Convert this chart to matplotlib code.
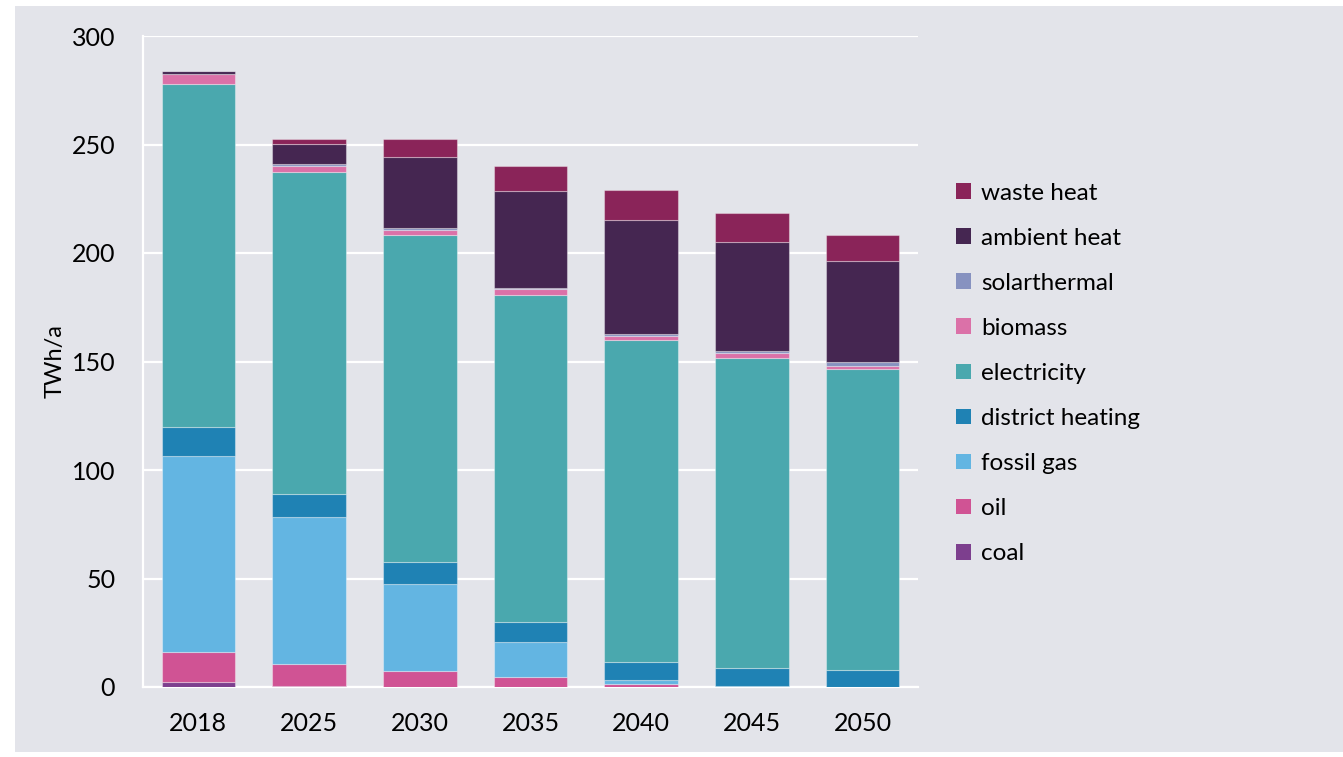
import matplotlib
matplotlib.use("Agg")
import matplotlib.pyplot as plt
from matplotlib.patches import Patch, Rectangle
import numpy as np

years = ["2018", "2025", "2030", "2035", "2040", "2045", "2050"]
series_names = ["coal", "oil", "fossil gas", "district heating", "electricity",
                "biomass", "solarthermal", "ambient heat", "waste heat"]
coal = [2.3, 0.6, 0.0, 0.0, 0.1, 0.0, 0.0]
oil = [13.7, 10.0, 7.4, 4.5, 1.3, 0.0, 0.0]
fossil_gas = [90.5, 67.6, 40.2, 16.1, 1.7, 0.4, 0.0]
district_heating = [13.3, 10.7, 10.0, 9.4, 8.4, 8.3, 8.0]
electricity = [158.3, 148.4, 150.8, 150.8, 148.4, 143.1, 138.5]
biomass = [4.3, 2.9, 2.3, 2.5, 1.9, 1.9, 1.6]
solarthermal = [0.3, 0.6, 0.7, 0.7, 0.8, 1.2, 1.5]
ambient_heat = [1.0, 9.3, 32.7, 44.6, 52.7, 50.2, 46.7]
waste_heat = [0.0, 2.5, 8.3, 11.6, 13.6, 13.2, 11.8]

colors = ["#7D3F8E", "#D05394", "#63B5E2", "#1F82B4", "#4AA8AE",
          "#DB71A8", "#8792C0", "#452651", "#8A2459"]
data = [coal, oil, fossil_gas, district_heating, electricity,
        biomass, solarthermal, ambient_heat, waste_heat]

plt.rcParams['font.family'] = ['Lato', 'DejaVu Sans']
BG = "#E3E4EA"

fig = plt.figure(figsize=(13.43, 7.57), dpi=100)
fig.patch.set_facecolor("white")
fig.patches.append(Rectangle((15 / 1343, 1 - 752 / 757), (1343 - 15) / 1343, (752 - 6) / 757,
                             transform=fig.transFigure, facecolor=BG, edgecolor="none", zorder=-10))

ax = fig.add_axes([143 / 1343, 1 - 687 / 757, 775 / 1343, 651 / 757])
ax.set_facecolor(BG)

x = np.arange(len(years))
bottom = np.zeros(len(years))
for name, vals, c in zip(series_names, data, colors):
    v = np.array(vals)
    ax.bar(x, v, bottom=bottom, width=0.665, color=c, edgecolor=(1, 1, 1, 0.35),
           linewidth=0.8, label=name, zorder=3)
    bottom += v

ax.set_xlim(-0.5, len(years) - 0.5)
ax.set_ylim(0, 300)
ax.set_yticks(np.arange(0, 301, 50))
ax.set_xticks(x)
ax.set_xticklabels(years)
ax.grid(axis="y", color="white", linewidth=1.6, zorder=0)
ax.set_axisbelow(True)
for s in ["top", "right"]:
    ax.spines[s].set_visible(False)
for s in ["left", "bottom"]:
    ax.spines[s].set_color("white")
    ax.spines[s].set_linewidth(1.6)
ax.tick_params(axis="both", length=0, labelsize=18)
ax.tick_params(axis="y", pad=20)
ax.tick_params(axis="x", pad=18)
ax.set_ylabel("TWh/a", fontsize=17, labelpad=4)

handles = [Patch(facecolor=c, edgecolor="none", label=n) for n, c in zip(series_names, colors)][::-1]
leg = fig.legend(handles=handles, loc="upper left", bbox_to_anchor=(946 / 1343, 1 - 173 / 757),
                 frameon=False, fontsize=17.5, handlelength=0.62, handleheight=0.62,
                 handletextpad=0.42, labelspacing=0.99, borderaxespad=0)

fig.savefig("out.png", dpi=100, facecolor=fig.get_facecolor())
